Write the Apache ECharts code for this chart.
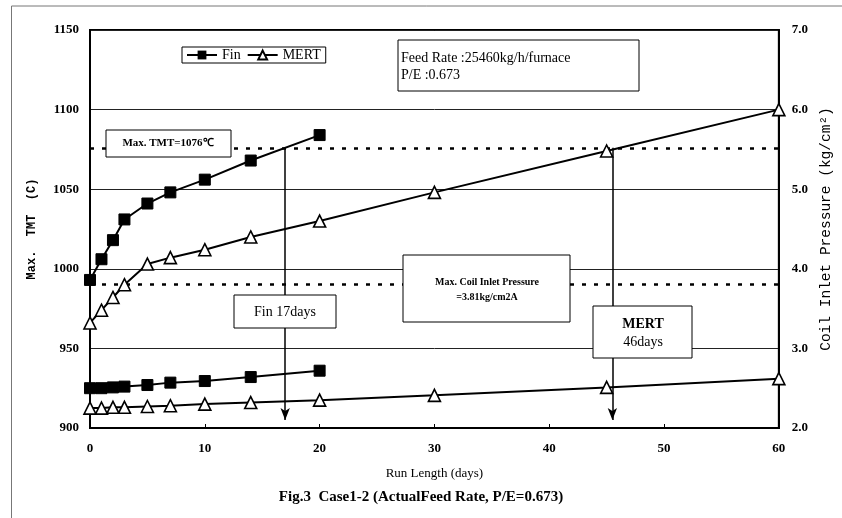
<!DOCTYPE html>
<html>
<head>
<meta charset="utf-8">
<script src="https://cdn.jsdelivr.net/npm/echarts@6/dist/echarts.min.js"></script>
<style>html,body{margin:0;padding:0;background:#fff;}#c{width:842px;height:518px;}</style>
</head>
<body>
<div id="c"></div>
<script>
// ---- data ----
const daysFin = [0, 1, 2, 3, 5, 7, 10, 14, 20];
const finTMT = [993, 1006, 1018, 1031, 1041, 1048, 1056, 1068, 1084];
const finPress = [2.50, 2.50, 2.51, 2.52, 2.54, 2.57, 2.59, 2.64, 2.72];
const daysMert = [0, 1, 2, 3, 5, 7, 10, 14, 20, 30, 45, 60];
const mertTMT = [966, 974, 982, 990, 1003, 1007, 1012, 1020, 1030, 1048, 1074, 1100];
const mertPress = [2.25, 2.25, 2.26, 2.26, 2.27, 2.28, 2.30, 2.32, 2.35, 2.41, 2.51, 2.62];
const tmtLimit = 1076;
const pressLimit = 3.81;
const runDays = [17, 45.5];           // Fin, MERT reach Max TMT
const arrowEnd = 905;
const xTicks = [0, 10, 20, 30, 40, 50, 60];
const leftTicks = [900, 950, 1000, 1050, 1100, 1150];
const rightTicks = [2.0, 3.0, 4.0, 5.0, 6.0, 7.0];

const pairs = (xs, ys) => xs.map((x, i) => [x, ys[i]]);
const serif = 'Liberation Serif';
const dash = {color: '#000', width: 2.5, type: [4, 8]};
const arrowStyle = {color: '#000', width: 1.5, type: 'solid'};
function arrow(d) {
  return [
    {coord: [d, tmtLimit], symbol: 'none', lineStyle: arrowStyle},
    {coord: [d, arrowEnd], symbol: 'arrow', symbolSize: [7, 12]}
  ];
}
const lineStyle = {color: '#000', width: 2};
const sq = {symbol: 'rect', symbolSize: 11, itemStyle: {color: '#000', borderColor: '#000'}};
const tri = {symbol: 'triangle', symbolSize: 12, itemStyle: {color: '#fff', borderColor: '#000', borderWidth: 1.6}};

function box(x, y, w, h) {
  return {type: 'rect', z: 100, shape: {x, y, width: w, height: h},
    style: {fill: '#fff', stroke: '#000', lineWidth: 1}};
}
function txt(x, y, t, size, align, weight) {
  return {type: 'text', z: 101, x, y,
    style: {text: t, fill: '#000', font: (weight || 'normal') + ' ' + size + 'px "' + serif + '"',
      textAlign: align || 'center', textVerticalAlign: 'middle'}};
}

const chart = echarts.init(document.getElementById('c'), null, {renderer: 'canvas'});
chart.setOption({
  animation: false,
  backgroundColor: '#fff',
  grid: {left: 90, right: 61, top: 30, bottom: 90, show: true, borderColor: '#000', borderWidth: 2},
  legend: {
    data: ['Fin', 'MERT'], left: 182, top: 47, orient: 'horizontal',
    borderColor: '#000', borderWidth: 1, padding: [1, 5, 1, 4], itemGap: 6,
    itemWidth: 30, itemHeight: 11, z: 100,
    textStyle: {fontFamily: serif, fontSize: 14, color: '#000'}
  },
  xAxis: {
    type: 'value', min: xTicks[0], max: xTicks[xTicks.length - 1], interval: 10,
    name: 'Run Length (days)', nameLocation: 'middle', nameGap: 39,
    nameTextStyle: {fontFamily: serif, fontSize: 13, color: '#000'},
    axisLine: {lineStyle: {color: '#000', width: 2}},
    axisTick: {show: true, inside: true, length: 4, lineStyle: {color: '#000'}},
    axisLabel: {fontFamily: serif, fontSize: 13, fontWeight: 'bold', color: '#000', margin: 14},
    splitLine: {show: false}
  },
  yAxis: [{
    type: 'value', min: leftTicks[0], max: leftTicks[leftTicks.length - 1], interval: 50,
    name: 'Max.  TMT  (C)', nameLocation: 'middle', nameGap: 52,
    nameTextStyle: {fontFamily: 'Liberation Mono', fontSize: 12, fontWeight: 'bold', color: '#000'},
    axisLine: {show: true, lineStyle: {color: '#000', width: 2}},
    axisTick: {show: false},
    axisLabel: {fontFamily: serif, fontSize: 13, fontWeight: 'bold', color: '#000', margin: 11,
      formatter: v => String(v)},
    splitLine: {show: true, lineStyle: {color: '#222', width: 1}}
  }, {
    type: 'value', min: rightTicks[0], max: rightTicks[rightTicks.length - 1], interval: 1,
    position: 'right',
    name: 'Coil Inlet Pressure (kg/cm²)', nameLocation: 'middle', nameGap: 38,
    nameTextStyle: {fontFamily: 'Liberation Mono', fontSize: 14.5, color: '#000'},
    axisLine: {show: true, lineStyle: {color: '#000', width: 2}},
    axisTick: {show: false},
    axisLabel: {fontFamily: serif, fontSize: 13, fontWeight: 'bold', color: '#000', margin: 13,
      formatter: v => v.toFixed(1)},
    splitLine: {show: false}
  }],
  series: [
    Object.assign({name: 'Fin', type: 'line', yAxisIndex: 0, data: pairs(daysFin, finTMT), lineStyle, z: 5,
      markLine: {silent: true, symbol: ['none', 'none'], label: {show: false}, z: 3,
        data: [{yAxis: tmtLimit, lineStyle: dash}, arrow(runDays[0]), arrow(runDays[1])]}}, sq),
    Object.assign({name: 'MERT', type: 'line', yAxisIndex: 0, data: pairs(daysMert, mertTMT), lineStyle, z: 5}, tri),
    Object.assign({name: 'Fin', type: 'line', yAxisIndex: 1, data: pairs(daysFin, finPress), lineStyle, z: 5,
      markLine: {silent: true, symbol: ['none', 'none'], label: {show: false}, z: 3,
        data: [{yAxis: pressLimit, lineStyle: dash}]}}, sq),
    Object.assign({name: 'MERT', type: 'line', yAxisIndex: 1, data: pairs(daysMert, mertPress), lineStyle, z: 5}, tri)
  ],
  graphic: [
    {type: 'line', z: 1, shape: {x1: 11.5, y1: 6, x2: 842, y2: 6}, style: {stroke: '#777', lineWidth: 1}},
    {type: 'line', z: 1, shape: {x1: 11.5, y1: 6, x2: 11.5, y2: 518}, style: {stroke: '#777', lineWidth: 1}},
    box(398, 40, 241, 51),
    txt(401, 58, 'Feed Rate :25460kg/h/furnace', 14, 'left'),
    txt(401, 75, 'P/E :0.673', 14, 'left'),
    box(106, 130, 125, 27),
    txt(168, 143.5, 'Max. TMT=1076℃', 11, 'center', 'bold'),
    box(403, 255, 167, 67),
    txt(487, 282, 'Max. Coil Inlet Pressure', 10, 'center', 'bold'),
    txt(487, 297, '=3.81kg/cm2A', 10, 'center', 'bold'),
    box(234, 295, 102, 33),
    txt(285, 312, 'Fin 17days', 14),
    box(593, 306, 99, 52),
    txt(643, 324, 'MERT', 14, 'center', 'bold'),
    txt(643, 342, '46days', 14),
    txt(421, 497, 'Fig.3  Case1-2 (ActualFeed Rate, P/E=0.673)', 15, 'center', 'bold')
  ]
});
</script>
</body>
</html>
